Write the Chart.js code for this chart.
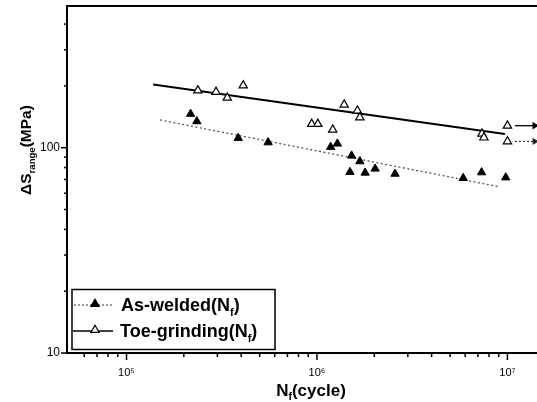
<!DOCTYPE html>
<html>
<head>
<meta charset="utf-8">
<script src="https://cdn.jsdelivr.net/npm/chart.js@4.4.1/dist/chart.umd.min.js"></script>
<style>
html, body { margin: 0; padding: 0; background: #fff; overflow: hidden; }
</style>
</head>
<body>
<canvas id="grafico" width="537" height="402"></canvas>
<script>
// As-welded (triangulo cheio)
var ciclosSoldado = [2.17e5, 2.34e5, 3.86e5, 5.54e5, 1.18e6, 1.28e6, 1.52e6, 1.68e6, 1.49e6, 1.79e6, 2.02e6, 2.57e6, 5.86e6, 7.32e6, 9.8e6];
var tensaoSoldado = [146, 134.4, 111.5, 106.1, 100.8, 104.6, 91.4, 85.8, 76.1, 75.5, 79, 74.6, 71.1, 75.8, 71.6];

// Toe-grinding (triangulo vazio)
var ciclosEsmerilhado = [2.37e5, 2.95e5, 3.38e5, 4.10e5, 9.38e5, 1.01e6, 1.21e6, 1.39e6, 1.63e6, 1.68e6, 7.35e6, 7.53e6, 1.0e7, 1.0e7];
var tensaoEsmerilhado = [190, 187, 175, 201, 130.5, 130.5, 122.4, 162, 151.5, 140.5, 117, 112, 128, 107.3];

// retas de ajuste
var ciclosAjusteSoldado = [1.5e5, 8.95e6];
var tensaoAjusteSoldado = [136.5, 64.7];
var ciclosAjusteEsmerilhado = [1.38e5, 9.7e6];
var tensaoAjusteEsmerilhado = [203, 116.7];

// setas de run-out
var ciclosSeta = [1.095e7, 1.39e7];
var tensaoSetaSolida = [128, 128];
var tensaoSetaPontilhada = [107.3, 107.3];

// ticks
var ticksMaioresX = [1e5, 1e6, 1e7];
var rotulosX = ['10\u2075', '10\u2076', '10\u2077'];
var ticksMenoresX = [6e4, 7e4, 8e4, 9e4, 2e5, 3e5, 4e5, 5e5, 6e5, 7e5, 8e5, 9e5, 2e6, 3e6, 4e6, 5e6, 6e6, 7e6, 8e6, 9e6];
var ticksMaioresY = [10, 100];
var rotulosY = ['10', '100'];
var ticksMenoresY = [20, 30, 40, 50, 60, 70, 80, 90, 200, 300, 400];

var fonte = '"Liberation Sans", Arial, sans-serif';

function juntar(xs, ys) {
    var pontos = [];
    for (var i = 0; i < xs.length; i++) {
        pontos.push({ x: xs[i], y: ys[i] });
    }
    return pontos;
}

// escreve texto com partes subscritas
function textoComIndice(ctx, partes, x, y, tamanho) {
    var cx = x;
    partes.forEach(function (p) {
        ctx.font = 'bold ' + (p.sub ? tamanho * 0.62 : tamanho) + 'px ' + fonte;
        ctx.fillText(p.t, cx, p.sub ? y + tamanho * 0.25 : y);
        cx += ctx.measureText(p.t).width;
    });
}

function larguraComIndice(ctx, partes, tamanho) {
    var total = 0;
    partes.forEach(function (p) {
        ctx.font = 'bold ' + (p.sub ? tamanho * 0.62 : tamanho) + 'px ' + fonte;
        total += ctx.measureText(p.t).width;
    });
    return total;
}

function trianguloLegenda(ctx, x, y, cheio) {
    var r = 4.8;
    ctx.beginPath();
    ctx.moveTo(x, y - r);
    ctx.lineTo(x + r * 0.866, y + r * 0.5);
    ctx.lineTo(x - r * 0.866, y + r * 0.5);
    ctx.closePath();
    ctx.fillStyle = cheio ? '#000' : '#fff';
    ctx.fill();
    ctx.lineWidth = 1.2;
    ctx.strokeStyle = '#000';
    ctx.stroke();
}

var extras = {
    id: 'extras',
    afterDraw: function (chart) {
        var ctx = chart.ctx;
        var area = chart.chartArea;
        var sx = chart.scales.x;
        var sy = chart.scales.y;
        ctx.save();

        // borda superior
        ctx.strokeStyle = '#000';
        ctx.lineWidth = 2;
        ctx.beginPath();
        ctx.moveTo(area.left, area.top);
        ctx.lineTo(area.right, area.top);
        ctx.stroke();

        // ticks do eixo x
        ctx.lineWidth = 1.5;
        ticksMaioresX.concat(ticksMenoresX).forEach(function (v) {
            var px = sx.getPixelForValue(v);
            if (px < area.left || px > area.right) return;
            var tam = ticksMaioresX.indexOf(v) >= 0 ? 7 : 4;
            ctx.beginPath();
            ctx.moveTo(px, area.bottom);
            ctx.lineTo(px, area.bottom + tam);
            ctx.stroke();
        });

        // ticks do eixo y
        ticksMaioresY.concat(ticksMenoresY).forEach(function (v) {
            var py = sy.getPixelForValue(v);
            if (py < area.top - 1 || py > area.bottom + 1) return;
            var tam = ticksMaioresY.indexOf(v) >= 0 ? 6 : 3;
            ctx.beginPath();
            ctx.moveTo(area.left, py);
            ctx.lineTo(area.left - tam, py);
            ctx.stroke();
        });

        // titulo do eixo x
        ctx.fillStyle = '#000';
        ctx.textBaseline = 'alphabetic';
        ctx.textAlign = 'left';
        var tituloX = [{ t: 'N' }, { t: 'f', sub: true }, { t: '(cycle)' }];
        var lx = larguraComIndice(ctx, tituloX, 17);
        textoComIndice(ctx, tituloX, 311 - lx / 2, 396, 17);

        // titulo do eixo y
        var tituloY = [{ t: '\u0394S' }, { t: 'range', sub: true }, { t: '(MPa)' }];
        ctx.save();
        ctx.translate(31, 150);
        ctx.rotate(-Math.PI / 2);
        var ly = larguraComIndice(ctx, tituloY, 15.5);
        textoComIndice(ctx, tituloY, -ly / 2, 0, 15.5);
        ctx.restore();

        // legenda
        ctx.lineWidth = 1.5;
        ctx.strokeStyle = '#000';
        ctx.strokeRect(72, 289.5, 203, 60);

        ctx.lineWidth = 1.2;
        ctx.strokeStyle = '#555';
        ctx.setLineDash([2, 2]);
        ctx.beginPath();
        ctx.moveTo(74, 305);
        ctx.lineTo(113, 305);
        ctx.stroke();
        ctx.setLineDash([]);
        trianguloLegenda(ctx, 95, 304, true);

        ctx.lineWidth = 1.6;
        ctx.strokeStyle = '#000';
        ctx.beginPath();
        ctx.moveTo(73, 331);
        ctx.lineTo(113, 331);
        ctx.stroke();
        trianguloLegenda(ctx, 95, 330, false);

        ctx.fillStyle = '#000';
        textoComIndice(ctx, [{ t: 'As-welded(N' }, { t: 'f', sub: true }, { t: ')' }], 121, 311, 18);
        textoComIndice(ctx, [{ t: 'Toe-grinding(N' }, { t: 'f', sub: true }, { t: ')' }], 120, 337, 18);

        ctx.restore();
    }
};

var dados = {
    datasets: [
        {
            label: 'As-welded(Nf)',
            data: juntar(ciclosSoldado, tensaoSoldado),
            showLine: false,
            pointStyle: 'triangle',
            pointRadius: 4.8,
            backgroundColor: '#000',
            borderColor: '#000',
            borderWidth: 1
        },
        {
            label: 'Toe-grinding(Nf)',
            data: juntar(ciclosEsmerilhado, tensaoEsmerilhado),
            showLine: false,
            pointStyle: 'triangle',
            pointRadius: 4.8,
            backgroundColor: '#fff',
            borderColor: '#000',
            borderWidth: 1.2
        },
        {
            label: 'ajuste soldado',
            data: juntar(ciclosAjusteSoldado, tensaoAjusteSoldado),
            showLine: true,
            pointRadius: 0,
            borderColor: '#555',
            borderWidth: 1.3,
            borderDash: [2, 2.5]
        },
        {
            label: 'ajuste esmerilhado',
            data: juntar(ciclosAjusteEsmerilhado, tensaoAjusteEsmerilhado),
            showLine: true,
            pointRadius: 0,
            borderColor: '#000',
            borderWidth: 2
        },
        {
            label: 'seta solida',
            data: juntar(ciclosSeta, tensaoSetaSolida),
            showLine: true,
            pointStyle: 'triangle',
            pointRotation: 90,
            pointRadius: [0, 3],
            backgroundColor: '#000',
            borderColor: '#000',
            borderWidth: 1.3
        },
        {
            label: 'seta pontilhada',
            data: juntar(ciclosSeta, tensaoSetaPontilhada),
            showLine: true,
            pointStyle: 'triangle',
            pointRotation: 90,
            pointRadius: [0, 3],
            backgroundColor: '#000',
            borderColor: '#333',
            borderWidth: 1.2,
            borderDash: [2, 2]
        }
    ]
};

var config = {
    type: 'scatter',
    data: dados,
    options: {
        responsive: false,
        animation: false,
        layout: { autoPadding: false, padding: { left: 0, top: 6, right: 0, bottom: 0 } },
        plugins: {
            legend: { display: false },
            tooltip: { enabled: false }
        },
        scales: {
            x: {
                type: 'logarithmic',
                min: 4.87e4,
                max: 1.43e7,
                afterBuildTicks: function (scale) {
                    scale.ticks = ticksMaioresX.map(function (v) { return { value: v }; });
                },
                afterFit: function (scale) {
                    scale.height = 49;
                    scale.paddingLeft = 0;
                    scale.paddingRight = 0;
                },
                grid: { display: false, drawTicks: false },
                border: { display: true, color: '#000', width: 2 },
                ticks: {
                    padding: 13,
                    color: '#000',
                    font: { family: fonte, size: 11 },
                    maxRotation: 0,
                    autoSkip: false,
                    callback: function (valor) {
                        var i = ticksMaioresX.indexOf(valor);
                        return i >= 0 ? rotulosX[i] : '';
                    }
                }
            },
            y: {
                type: 'logarithmic',
                min: 10,
                max: 490,
                afterBuildTicks: function (scale) {
                    scale.ticks = ticksMaioresY.map(function (v) { return { value: v }; });
                },
                afterFit: function (scale) {
                    scale.width = 67;
                    scale.paddingTop = 0;
                    scale.paddingBottom = 0;
                },
                grid: { display: false, drawTicks: false },
                border: { display: true, color: '#000', width: 2 },
                ticks: {
                    padding: 7,
                    color: '#000',
                    font: { family: fonte, size: 12 },
                    autoSkip: false,
                    callback: function (valor) {
                        var i = ticksMaioresY.indexOf(valor);
                        return i >= 0 ? rotulosY[i] : '';
                    }
                }
            }
        }
    },
    plugins: [extras]
};

var grafico = new Chart(document.getElementById('grafico'), config);
</script>
</body>
</html>
